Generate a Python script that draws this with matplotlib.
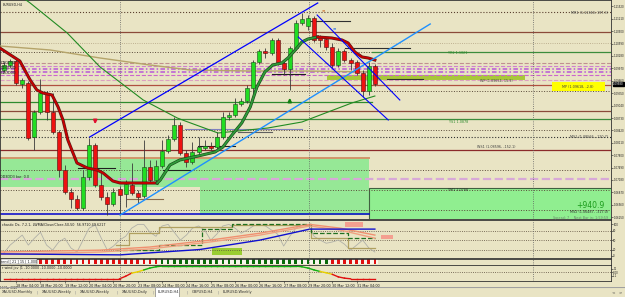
import matplotlib
matplotlib.use('Agg')
import matplotlib.pyplot as plt
from matplotlib.patches import Rectangle
import matplotlib.transforms as mtransforms
import numpy as np

W, H = 625, 297
BG = '#e9e4c4'

# ---- H4 candles (index 0 = first visible bar) ----
opens = [1.09930, 1.10055, 1.10155, 1.09580, 1.09605, 1.08255, 1.08880, 1.09355, 1.08880, 1.08380,
         1.07430, 1.06880, 1.06705, 1.06480, 1.07255, 1.08055, 1.07055, 1.06755, 1.06580, 1.06955,
         1.06830, 1.07055, 1.06855, 1.06780, 1.07505, 1.07180, 1.07530, 1.07905, 1.08205, 1.08555,
         1.07855, 1.07630, 1.07880, 1.07980, 1.08030, 1.08005, 1.08255, 1.08755, 1.08805, 1.09080,
         1.09155, 1.09480, 1.10130, 1.10405, 1.10355, 1.10680, 1.10105, 1.09955, 1.10480, 1.11105,
         1.11030, 1.11230, 1.10755, 1.10705, 1.10505, 1.10055, 1.10405, 1.10180, 1.10130, 1.09855,
         1.09405, 1.10030]
closes = [1.10055, 1.10155, 1.09605, 1.09680, 1.08230, 1.08880, 1.09355, 1.08880, 1.08380, 1.07430,
          1.06880, 1.06705, 1.06480, 1.07255, 1.08055, 1.07055, 1.06755, 1.06580, 1.06880, 1.06805,
          1.07080, 1.06855, 1.06755, 1.07505, 1.07180, 1.07530, 1.07905, 1.08205, 1.08555, 1.07855,
          1.07630, 1.07880, 1.08005, 1.08030, 1.07980, 1.08255, 1.08755, 1.08805, 1.09080, 1.09155,
          1.09480, 1.10130, 1.10405, 1.10355, 1.10680, 1.10105, 1.09955, 1.10480, 1.11105, 1.11205,
          1.11230, 1.10680, 1.10680, 1.10505, 1.10055, 1.10405, 1.10180, 1.10105, 1.09855, 1.09405,
          1.10030, 1.09580]
highs = [1.10130, 1.10205, 1.10205, 1.09730, 1.09655, 1.08930, 1.09705, 1.09405, 1.09355, 1.08430,
         1.07555, 1.06980, 1.06805, 1.07430, 1.08230, 1.08105, 1.07355, 1.06880, 1.06980, 1.07030,
         1.07180, 1.07605, 1.06930, 1.08180, 1.07680, 1.07680, 1.08180, 1.08305, 1.08755, 1.08630,
         1.07930, 1.08130, 1.08255, 1.08180, 1.08130, 1.08380, 1.08880, 1.08880, 1.09230, 1.09230,
         1.09555, 1.10180, 1.10455, 1.10480, 1.10730, 1.10730, 1.10180, 1.10530, 1.11180, 1.11355,
         1.11305, 1.11280, 1.10805, 1.10755, 1.10605, 1.10480, 1.10455, 1.10230, 1.10180, 1.09930,
         1.10130, 1.10080]
lows = [1.09880, 1.10005, 1.09555, 1.09480, 1.08180, 1.07930, 1.08830, 1.08680, 1.08330, 1.07255,
        1.06830, 1.06480, 1.06430, 1.06430, 1.07180, 1.07005, 1.06680, 1.06305, 1.06530, 1.06305,
        1.06505, 1.06805, 1.06605, 1.06730, 1.07130, 1.07105, 1.07480, 1.07855, 1.08155, 1.07805,
        1.07505, 1.07580, 1.07830, 1.07930, 1.07930, 1.07955, 1.08205, 1.08680, 1.08755, 1.09030,
        1.09105, 1.09180, 1.10080, 1.10230, 1.10305, 1.10055, 1.09805, 1.09430, 1.10430, 1.11055,
        1.10930, 1.10630, 1.10505, 1.10430, 1.09980, 1.10005, 1.10130, 1.09930, 1.09805, 1.09255,
        1.09305, 1.09530]

time_ticks = [2, 6, 10, 14, 18, 22, 26, 30, 34, 38, 42, 46, 50, 54, 58]
time_labels = ['18 Mar 04:00', '18 Mar 20:00', '19 Mar 12:00', '20 Mar 04:00', '20 Mar 20:00',
               '23 Mar 08:00', '24 Mar 00:00', '24 Mar 16:00', '25 Mar 08:00', '26 Mar 00:00',
               '26 Mar 16:00', '27 Mar 08:00', '29 Mar 20:00', '30 Mar 12:00', '31 Mar 04:00']
price_ticks = [1.11520, 1.11210, 1.10900, 1.10590, 1.10280, 1.09970, 1.09660, 1.09350, 1.09040,
               1.08730, 1.08420, 1.08110, 1.07800, 1.07490, 1.07180, 1.06870, 1.06560, 1.06250]
last_price = 1.09580

# moving averages (bar, price)
fast_red1_x = [-0.7, 2.6, 4.3, 5.4, 6.4, 7.9, 8.9, 9.7, 10.5, 12.0, 13.7, 15.3, 16.3, 17.9, 19.1, 25.2]
fast_red1_y = [1.1048, 1.10155, 1.0968, 1.0943, 1.09355, 1.09305, 1.09005, 1.0868, 1.0818, 1.07605,
               1.0748, 1.0743, 1.07355, 1.07155, 1.07105, 1.07105]
fast_green_x = [25.2, 25.7, 27.3, 28.9, 31.9, 34.7, 36.0, 37.5, 39.1, 40.5, 41.6, 42.9, 44.2, 45.7,
                46.7, 48.2, 49.0, 50.0, 51.6]
fast_green_y = [1.07105, 1.0718, 1.07555, 1.0768, 1.0778, 1.0788, 1.08005, 1.08305, 1.08605, 1.09005,
                1.09505, 1.0988, 1.10055, 1.10105, 1.1023, 1.1048, 1.1063, 1.10705, 1.10755]
fast_red2_x = [51.6, 53.9, 55.6, 56.6, 57.7, 58.9, 59.9, 61.0]
fast_red2_y = [1.10755, 1.1073, 1.1068, 1.10605, 1.1038, 1.10255, 1.1023, 1.1018]
slow_x = [2.5, 4.3, 10.4, 15.8, 22.9, 28.5, 29.8, 35.2, 43.4, 49.0, 53.3, 57.2, 61.0]
slow_y = [1.1180, 1.11605, 1.10855, 1.10005, 1.0918, 1.0873, 1.08655, 1.08355, 1.0848, 1.0863,
          1.0888, 1.09105, 1.0928]
olive_x = [-0.7, 7.6, 15.8, 24.0, 30.6, 40.5, 49.2, 61.0]
olive_y = [1.1053, 1.1043, 1.1023, 1.10055, 1.0993, 1.09905, 1.09905, 1.0988]

# trend lines ((bar0, bar1), (price0, price1))
up_channel = ((14.1, 51.6), (1.08255, 1.11605))
low_channel = ((19.1, 70.1), (1.06305, 1.11080))
down_a = ((51.5, 65.1), (1.11305, 1.09180))
down_b = ((48.4, 63.2), (1.10755, 1.08680))

# horizontal levels across the chart
level_prices = [1.1138, 1.1088, 1.10605, 1.1038, 1.10105, 1.1003, 1.09955, 1.0988, 1.09805, 1.0968,
                1.09555, 1.09405, 1.08905, 1.08705, 1.0843, 1.08255, 1.0793, 1.0743, 1.07205, 1.0693,
                1.0643]
level_styles = [('#5a4030', ':', 0.8), ('#8b4a3a', '-', 0.9), ('#b0a080', ':', 0.6), ('#5a4a3a', ':', 0.7),
                ('#c09090', '--', 0.8), ('#d080d0', '--', 0.8), ('#b858d8', (0, (3, 1.5, 1, 1.5)), 1.1),
                ('#b858d8', (0, (3, 1.5, 1, 1.5)), 1.1),
                ('#cc66cc', '--', 0.8), ('#dca0c0', '--', 0.8), ('#b05040', '-', 0.9), ('#5a4a3a', ':', 0.7),
                ('#8b4a3a', '-', 0.9), ('#3c8c3c', '-', 0.9), ('#5a4a3a', ':', 0.7), ('#303030', ':', 0.8),
                ('#8b2a2a', '-', 0.9), ('#5a4a3a', ':', 0.7), ('#d8a8d8', '--', 1.6), ('#5a4a3a', ':', 0.7),
                ('#5a4a3a', ':', 0.7)]

# short object lines (bar0, bar1, price)
short_lines = [(12.2, 18.3, 1.0748), (26.2, 30.6, 1.0743), (31.9, 38.0, 1.0803), (38.5, 44.1, 1.0838),
               (44.1, 49.5, 1.0983), (50.3, 56.9, 1.1115), (56.1, 66.8, 1.1048), (63.0, 68.9, 1.0970)]
short_colors = ['#202020', '#202020', '#202020', '#606060', '#202020', '#303030', '#303030', '#303030']

# separators (bar positions)
separators = [19.08, 50.16, 87.0]

# stochastic panel
sto_main = [9, 34, 50, 66, 34, 56, 75, 34, 18, 44, 56, 25, 12, 50, 88, 98, 56, 18, 31, 50,
            62, 88, 100, 100, 75, 62, 95, 100, 75, 50, 66, 88, 95, 82, 50, 69, 95, 100, 88, 72,
            82, 95, 100, 95, 82, 69, 31, 62, 88, 98, 100, 62, 50, 40, 44, 50, 37, 18, 34, 50, 25, 12]
nan = np.nan
sto_olive = [nan] * 19 + [34, 34, 72, 72, 72, 72, 72, 91, 91, 91, 91, 91, 91, 91, 91, 91, 91, 91, 91,
                          98, 98, 98, 98, 98, 98, 98, 98, 98, 98, 98, 98, 98, 56, 56, 56, 56, 56, 56,
                          25, 25, 25, 25, 25]
sto_green = [nan] * 19 + [18, 18, 18, 18, 18, 18, 18, 34, 34, 34, 34, 34, 34, 34, 85, 85, 85, 85, 85,
                          100, 100, 100, 100, 100, 100, 100, 100, 100, 100, 100, 100, 100, 72, 72, 72,
                          72, 72, 72, 56, 56, 56, 56, 56]
orange_x = [-0.7, 15.8, 24.0, 33.9, 42.1, 50.3, 55.3, 61.0]
orange_a = [12, 18, 28, 50, 72, 100, 88, 66]
orange_b = [5, 12, 22, 44, 66, 95, 82, 56]
blue_x = [-0.7, 19.1, 32.2, 42.1, 50.3, 61.0]
blue_v = [6, 3, 20, 50, 85, 85]

# trend strip colour per bar
strip_cols = ['r'] * 26 + ['g'] * 28 + ['r'] * 8

# wind panel
wind = [-20, -20, -20, -20, -20, -20, -20, -20, -20, -20, -20, -20, -20, -20, -20, -20, -20, -20, -20, -20,
        -12, -2, 2, 8, 14, 18, 20, 20, 20, 20, 20, 20, 20, 20, 20, 20, 20, 20, 20, 20,
        20, 20, 20, 20, 20, 20, 20, 20, 20, 18, 14, 8, 3, -1, -6, -14, -18, -20, -20, -20, -20, -20]

tabs = ['XAUUSD,Monthly', 'XAUUSD,Weekly', 'XAUUSD,Weekly', 'XAUUSD,Daily', 'EURUSD,H4', 'GBPUSD,H4',
        'EURUSD,Weekly']

# ------------------------------------------------------------------
XL = (-0.66, 99.84)
FS = 2.4
AX_FS = 1.9


def box(x0, y0, x1, y1):
    return [x0 / W, 1 - y1 / H, (x1 - x0) / W, (y1 - y0) / H]


fig = plt.figure(figsize=(W / 100, H / 100), dpi=100, facecolor=BG)

ax = fig.add_axes(box(0, 0, 611, 219), facecolor=BG)
ax.set_xlim(*XL)
ax.set_ylim(1.06205, 1.1168)

# zones
ax.add_patch(Rectangle((-0.7, 1.07005), 60.7, 0.00725, color='#96e896', lw=0, zorder=0))
ax.add_patch(Rectangle((32.2, 1.06305), 27.8, 0.0070, color='#96e896', lw=0, zorder=0))
ax.add_patch(Rectangle((60.0, 1.06155), 40.0, 0.00825, facecolor='#90ee90', edgecolor='#406040', lw=0.8, zorder=0))
ax.add_patch(Rectangle((53.2, 1.0968), 32.5, 0.0012, color='#a8c838', lw=0, zorder=1))
ax.add_patch(Rectangle((90.1, 1.09405), 8.7, 0.00225, color='#ffff00', lw=0, zorder=6))

for p, (col, ls, lw) in zip(level_prices, level_styles):
    ax.axhline(p, color=col, ls=ls, lw=lw, zorder=1)
ax.plot([-0.7, 60.5], [1.0913, 1.0913], color='#2e8b2e', lw=0.9, zorder=1)
ax.plot([60.5, 100], [1.1038, 1.1038], color='#3c8c3c', lw=0.9, zorder=1)
ax.plot([-0.7, 60.0], [1.0773, 1.0773], color='#d2956a', lw=1.4, zorder=1)
ax.plot([-0.7, 60.0], [1.0633, 1.0633], color='#0000cc', lw=1.1, zorder=1)
for (b0, b1, p), col in zip(short_lines, short_colors):
    ax.plot([b0, b1], [p, p], color=col, lw=0.8, zorder=3)
ax.plot([20.2, 26.2], [1.06705, 1.06705], color='#8b6b4a', lw=0.8, zorder=3)
ax.plot([29.8, 49.0], [1.08455, 1.08455], color='#8080c0', lw=0.8, zorder=3)

for s in separators:
    ax.axvline(s, color='#606060', ls=':', lw=0.6, zorder=2)

# averages
ax.plot(olive_x, olive_y, color='#b5a46a', lw=1.0, zorder=3)
ax.plot(slow_x, slow_y, color='#228b22', lw=0.8, zorder=3)

# candles
x = np.arange(len(opens))
o, c, hi, lo = map(np.array, (opens, closes, highs, lows))
up = c >= o
ax.vlines(x, lo, hi, color='#3a3a3a', lw=0.6, zorder=4)
ax.bar(x[up], np.maximum(c - o, 0.00006)[up], bottom=o[up], width=0.66, color='#22dd22',
       edgecolor='#1a4a1a', lw=0.4, zorder=5)
ax.bar(x[~up], np.maximum(o - c, 0.00006)[~up], bottom=c[~up], width=0.66, color='#ee1111',
       edgecolor='#4a1010', lw=0.4, zorder=5)

for xs, ys, col in ((fast_red1_x, fast_red1_y, '#c80000'), (fast_green_x, fast_green_y, '#2f9a3a'),
                    (fast_red2_x, fast_red2_y, '#c80000')):
    ax.plot(xs, ys, color='#5a1a1a' if col == '#c80000' else '#1a4a1a', lw=2.2, zorder=6)
    ax.plot(xs, ys, color=col, lw=1.3, zorder=6)

for (bx, py), col, lw in ((up_channel, '#0000ff', 0.9), (low_channel, '#1e90ff', 1.0),
                          (down_a, '#0000ff', 0.8), (down_b, '#0000ff', 0.8)):
    ax.plot(bx, py, color=col, lw=lw, zorder=7)

ax.annotate('', xy=(15, 1.08505), xytext=(15, 1.08755),
            arrowprops=dict(arrowstyle='-|>', color='#e01030', lw=1.3, mutation_scale=5), zorder=8)
ax.annotate('', xy=(47, 1.09305), xytext=(47, 1.09055),
            arrowprops=dict(arrowstyle='-|>', color='#108010', lw=1.3, mutation_scale=5), zorder=8)
ax.text(52.5, 1.1143, '\u2261', color='#d08040', fontsize=3, ha='center', va='center', zorder=8)
ax.text(54.3, 1.1098, '\u2261', color='#4080e0', fontsize=3, ha='center', va='center', zorder=8)

# object labels
lab = dict(fontsize=FS, zorder=9)
ax.text(99.3, 1.11355, 'MR1 (1.11340, 197.3)', ha='right', va='center', color='#404040', **lab)
ax.text(74.7, 1.10355, 'YR2 1.1021', ha='center', va='center', color='#2e8b2e', **lab)
ax.text(81.0, 1.09655, 'WP (1.09654, 15.9)', ha='center', va='center', color='#404040', **lab)
ax.text(94.4, 1.09505, 'MP (1.09618, -2.8)', ha='center', va='center', color='#404040', **lab)
ax.text(74.7, 1.0863, 'YS1 1.0878', ha='center', va='center', color='#2e8b2e', **lab)
ax.text(99.3, 1.08255, 'MS1 (1.08566, -120.7)', ha='right', va='center', color='#404040', **lab)
ax.text(81.0, 1.08005, 'WS1 (1.08596, -152.1)', ha='center', va='center', color='#404040', **lab)
ax.text(74.7, 1.0693, 'YM1 1.0788', ha='center', va='center', color='#303030', **lab)
ax.text(98.8, 1.0654, '+940.9', ha='right', va='center', color='#1a9a1a', fontsize=5.5, zorder=9)
ax.text(99.3, 1.0638, 'MS2 (1.06487, -317.0)', ha='right', va='center', color='#303030', **lab)
ax.text(99.3, 1.0624, 'Spread: 7    Next Bar in: 1:59:59', ha='right', va='center', color='#6a8a6a', **lab)
ax.text(0.004, 0.985, 'EURUSD,H4', transform=ax.transAxes, ha='left', va='top', color='#202020', **lab)
ax.text(-0.6, 1.07255, 'DD3DD3 bar: 0.0', ha='left', va='center', color='#202020', **lab)
for p in (1.1011, 1.0998, 1.0986):
    ax.text(-0.6, p, 'DDDDDD', ha='left', va='center', color='#202020', fontsize=FS, zorder=9)

ax.yaxis.tick_right()
ax.set_yticks(price_ticks)
ax.set_yticklabels(['%.5f' % v for v in price_ticks])
ax.tick_params(axis='y', labelsize=AX_FS, length=1.2, pad=0.4, width=0.4, colors='#202020')
ax.set_xticks([])
tr = mtransforms.blended_transform_factory(ax.transAxes, ax.transData)
ax.text(1.003, last_price, '%.5f' % last_price, transform=tr, ha='left', va='center', fontsize=AX_FS,
        color='white', bbox=dict(facecolor='black', edgecolor='black', pad=0.2), zorder=10, clip_on=False)

# stochastic
sx = fig.add_axes(box(0, 220, 611, 258), facecolor=BG)
sx.set_xlim(*XL)
sx.set_ylim(-7, 114)
for v in (80, 50, 20):
    sx.axhline(v, color='#5a4a3a', ls=':', lw=0.6)
sx.add_patch(Rectangle((56.1, 92), 2.9, 16, color='#f4a090', lw=0))
sx.add_patch(Rectangle((62.0, 53), 2.0, 13, color='#f4a090', lw=0))
sx.add_patch(Rectangle((34.2, 2), 4.9, 23, color='#9acd32', lw=0))
sx.plot(x, sto_main, color='#b0b0a8', lw=0.6)
sx.plot(x, sto_olive, color='#b0a060', lw=0.9, drawstyle='steps-mid')
sx.plot(x, sto_green, color='#207020', lw=0.9, ls='--', drawstyle='steps-mid')
sx.plot(orange_x, orange_a, color='#f09070', lw=1.0)
sx.plot(orange_x, orange_b, color='#f0a080', lw=1.0)
sx.plot(blue_x, blue_v, color='#1010d0', lw=1.0)
for s in separators:
    sx.axvline(s, color='#606060', ls=':', lw=0.6)
sx.text(0.003, 0.93, 'chastic Dx, 7.2.1, LWMA/Close/Close,50,50  56.9710 49.6217', transform=sx.transAxes,
        ha='left', va='top', color='#202020', fontsize=FS)
sx.yaxis.tick_right()
sx.set_yticks([100, 80, 50, 20, 0])
sx.set_yticklabels(['100', '80', '50', '20', '0'])
sx.tick_params(axis='y', labelsize=AX_FS, length=1.2, pad=0.4, width=0.4, colors='#202020')
sx.set_xticks([])

# trend strip
tx = fig.add_axes(box(0, 258.5, 611, 264.5), facecolor=BG)
tx.set_xlim(*XL)
tx.set_ylim(0, 1)
for i, col in enumerate(strip_cols):
    tx.add_patch(Rectangle((i - 0.5, 0.05), 1.0, 0.9, color='#f8f6ee', lw=0))
    tx.add_patch(Rectangle((i - 0.22, 0.05), 0.44, 0.9, color='#e01010' if col == 'r' else '#0a6a0a', lw=0))
tx.text(-0.5, 0.5, 'rend [ 21 ] 15 | 1.000', ha='left', va='center', fontsize=FS, color='#202020',
        bbox=dict(facecolor='white', edgecolor='#404040', lw=0.3, pad=0.3))
for s in separators:
    tx.axvline(s, color='#606060', ls=':', lw=0.6)
tx.set_xticks([])
tx.set_yticks([])

# wind
wx = fig.add_axes(box(0, 265, 611, 281), facecolor=BG)
wx.set_xlim(*XL)
wx.set_ylim(-27, 23.6)
wx.axhline(0, color='#5a4a3a', ls=':', lw=0.6)
for i in range(len(wind) - 1):
    m = (wind[i] + wind[i + 1]) / 2
    col = '#10b010' if m > 5 else ('#e01010' if m < -5 else '#e8d000')
    wx.plot([i, i + 1], [wind[i], wind[i + 1]], color=col, lw=1.0)
for s in separators:
    wx.axvline(s, color='#606060', ls=':', lw=0.6)
wx.text(0.003, 0.92, 'r wind jov |1 -10.0000 -10.0000 -10.0000', transform=wx.transAxes, ha='left', va='top',
        color='#202020', fontsize=FS)
wx.yaxis.tick_right()
wx.set_yticks([11, 0, -11])
wx.set_yticklabels(['11', '0.00', '-11'])
wx.tick_params(axis='y', labelsize=AX_FS, length=1.2, pad=0.4, width=0.4, colors='#202020')
wx.set_xticks(time_ticks)
wx.set_xticklabels(time_labels, ha='left')
wx.tick_params(axis='x', labelsize=FS, length=1.5, pad=0.8, width=0.4, colors='#202020')
wx.text(0.0, -0.33, '16 Mar 2020', transform=wx.transAxes,
        ha='left', va='top', fontsize=2.0, color='#202020')

for a in (ax, sx, tx, wx):
    for sp in a.spines.values():
        sp.set_color('#303030')
        sp.set_linewidth(0.6)

# tabs
bx = fig.add_axes(box(0, 287, 625, 297), facecolor='#f0f0f0')
bx.set_xlim(0, W)
bx.set_ylim(0, 10)
bx.axis('off')
bx.axhline(10, color='#a0a0a0', lw=0.8)
tab_x = [2, 42, 80, 122, 158, 192, 223]
for k, (t, tx0) in enumerate(zip(tabs, tab_x)):
    if k == 4:
        bx.add_patch(Rectangle((tx0 - 3, 0), 24, 10, facecolor='white', edgecolor='#808080', lw=0.5))
    bx.text(tx0, 5, t, ha='left', va='center', fontsize=2.6, color='#303030')
    if k < len(tabs) - 1:
        bx.text(tab_x[k + 1] - 5, 5, '|', ha='center', va='center', fontsize=3, color='#909090')
bx.text(613, 5, '<', ha='center', va='center', fontsize=3, color='#404040')
bx.text(620, 5, '>', ha='center', va='center', fontsize=3, color='#404040')

fig.savefig('out.png', dpi=100, facecolor=BG)
